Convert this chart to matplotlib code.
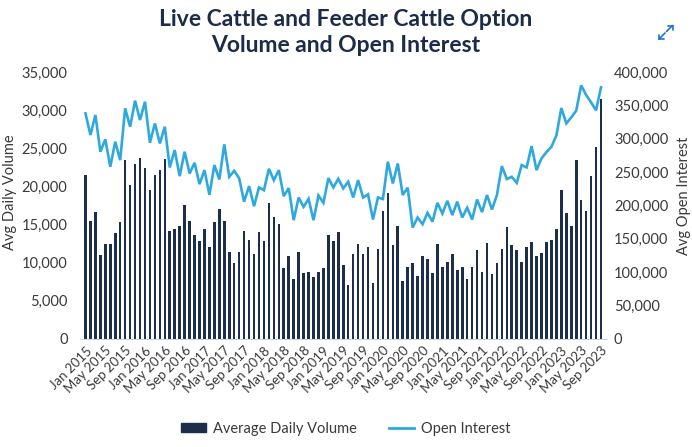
import matplotlib
matplotlib.use("Agg")
import matplotlib.pyplot as plt
import numpy as np
import pandas as pd
from matplotlib.lines import Line2D
from matplotlib.patches import Patch

# ---- data (monthly, Jan 2015 - Sep 2023) ----
volume = [21.5, 15.5, 16.6, 11.0, 12.45, 12.5, 13.85, 15.4, 23.4, 20.2, 22.9, 23.7,
          22.4, 19.5, 21.5, 22.1, 23.55, 14.1, 14.4, 14.8, 17.55, 15.5, 13.6, 12.85,
          14.4, 12.1, 15.4, 17.0, 15.5, 11.45, 10.0, 11.35, 14.15, 13.0, 11.2,
          14.06, 12.9, 17.8, 15.95, 15.1, 9.35, 10.9, 7.8, 11.4, 8.7, 8.75, 8.1,
          8.8, 9.35, 13.6, 12.85, 14.06, 9.7, 7.08, 11.1, 12.45, 11.1, 12.0, 7.4,
          11.8, 16.8, 19.2, 12.3, 14.85, 7.64, 9.5, 9.9, 8.26, 10.9, 10.45, 8.6,
          12.5, 9.4, 10.05, 11.2, 9.1, 9.5, 7.85, 9.4, 11.65, 8.8, 12.6, 8.5,
          9.9, 11.8, 14.7, 12.3, 11.65, 10.05, 12.0, 12.7, 10.9, 11.3, 12.7,
          13.0, 14.4, 19.5, 16.55, 14.8, 23.5, 18.2, 16.8, 21.4, 25.2, 31.5]
volume = [v * 1000 for v in volume]

open_interest = [338, 305.6, 335.6, 280.6, 299, 258, 295.6, 268, 345.6, 318, 357, 328,
                 355.5, 294, 323, 293, 318, 257, 283, 244, 280.6, 248, 264, 232,
                 253, 216, 260.6, 239, 291.6, 243, 252, 240.7, 205.7, 229, 199,
                 227, 223, 255, 238, 253, 214, 226, 178, 212, 198, 210, 178,
                 215, 204, 241, 227, 240, 225.7, 235.6, 212, 238, 212, 216.7, 179,
                 212, 209.7, 265.6, 233, 263, 215.7, 226.7, 167, 182, 172, 189, 175.7,
                 204, 188, 207, 185.7, 205.7, 182, 196.7, 179, 209, 190, 215.7, 194,
                 215.7, 259, 239.7, 243, 234, 260.6, 257, 289, 253, 270.7, 280,
                 288, 305, 346, 323, 332, 342, 380, 365.5, 354.6, 342.6, 377]
open_interest = [v * 1000 for v in open_interest]

months = pd.date_range("2015-01-01", periods=len(volume), freq="MS")
categories = [d.strftime("%b %Y") for d in months]

vol_ticks = [0, 5000, 10000, 15000, 20000, 25000, 30000, 35000]
oi_ticks = [0, 50000, 100000, 150000, 200000, 250000, 300000, 350000, 400000]

# ---- style ----
FONT = "Lato"
plt.rcParams["font.family"] = [FONT, "DejaVu Sans"]
NAVY = "#1c2e4a"
BLUE = "#2ea9de"
TXT = "#3a3a3a"

W, H = 692, 447
fig = plt.figure(figsize=(W / 100, H / 100), dpi=100)
fig.patch.set_facecolor("white")

left_px, right_px, top_px, bot_px = 80, 607, 72, 339
ax = fig.add_axes([left_px / W, (H - bot_px) / H, (right_px - left_px) / W, (bot_px - top_px) / H])
ax2 = ax.twinx()

n = len(volume)
x = np.arange(n)
first_px, last_px = 85.5, 601
s = (last_px - first_px) / (n - 1)

ax.bar(x, volume, width=0.52, color=NAVY, zorder=2)
ax2.plot(x, open_interest, color=BLUE, lw=1.9, zorder=3, solid_joinstyle="miter")

ax.set_xlim(-(first_px - left_px) / s, (n - 1) + (right_px - last_px) / s)
ax.set_ylim(0, 35000)
ax2.set_ylim(0, 400000)

ax.set_yticks(vol_ticks)
ax.set_yticklabels([f"{v:,}" for v in vol_ticks])
ax2.set_yticks(oi_ticks)
ax2.set_yticklabels([f"{v:,}" for v in oi_ticks])

tick_idx = list(range(0, n, 4))
ax.set_xticks(tick_idx)
ax.set_xticklabels([categories[i] for i in tick_idx], rotation=45, ha="right",
                   rotation_mode="anchor", fontsize=9.5, color=TXT)

for a in (ax, ax2):
    for sp in a.spines.values():
        sp.set_visible(False)
    a.tick_params(axis="both", length=0, labelsize=10.5, labelcolor=TXT)
ax.spines["bottom"].set_visible(True)
ax.spines["bottom"].set_color("#ccd6eb")
ax.spines["bottom"].set_linewidth(0.8)
ax.tick_params(axis="x", pad=4, labelsize=9.5)
ax.tick_params(axis="y", pad=9)
ax2.tick_params(axis="y", pad=5)

fig.text(10 / W, 1 - 192 / H, "Avg Daily Volume", rotation=90, ha="center", va="center",
         fontsize=10.5, color=TXT)
fig.text(684 / W, 1 - 196 / H, "Avg Open Interest", rotation=90, ha="center", va="center",
         fontsize=10.5, color=TXT)

fig.text(0.5, 1 - 20 / H, "Live Cattle and Feeder Cattle Option", ha="center", va="center",
         fontsize=16.5, fontweight="bold", color="#1b2b48")
fig.text(0.5, 1 - 46 / H, "Volume and Open Interest", ha="center", va="center",
         fontsize=16.5, fontweight="bold", color="#1b2b48")

handles = [Patch(facecolor=NAVY, edgecolor=NAVY), Line2D([0], [0], color=BLUE, lw=2)]
leg = fig.legend(handles, ["Average Daily Volume", "Open Interest"], loc="center",
                 bbox_to_anchor=(0.5, 1 - 429 / H), ncol=2, frameon=False, fontsize=10.5,
                 handlelength=1.7, handleheight=0.6, columnspacing=2.2, handletextpad=0.5)
for t in leg.get_texts():
    t.set_color(TXT)

# fullscreen icon (two outward arrows)
ICON = "#1e74d0"
def fpx(px, py):
    return (px / W, 1 - py / H)
segments = [((659, 39), (665, 33)), ((666.5, 31.5), (672.5, 25.5)),
            ((659, 39), (663.5, 39)), ((659, 39), (659, 34.5)),
            ((672.5, 25.5), (668, 25.5)), ((672.5, 25.5), (672.5, 30))]
for p0, p1 in segments:
    a0, a1 = fpx(*p0), fpx(*p1)
    fig.add_artist(Line2D([a0[0], a1[0]], [a0[1], a1[1]], transform=fig.transFigure,
                          color=ICON, lw=1.2, solid_capstyle="round"))

fig.savefig("out.png", dpi=100, facecolor="white")
